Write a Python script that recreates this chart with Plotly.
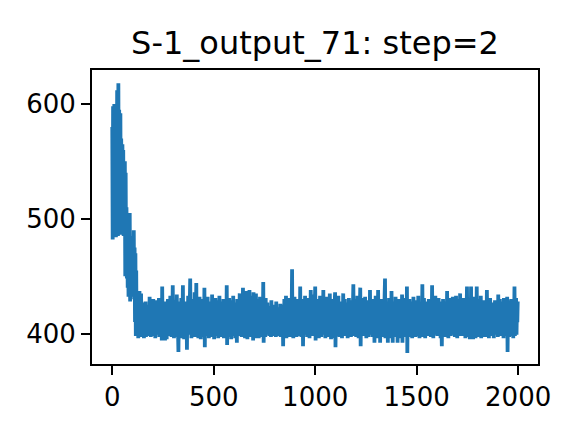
import plotly.graph_objects as go

title_text = "S-1_output_71: step=2"
step = 2

early_values = [
    580, 482, 598, 540, 488, 600, 495, 585, 560, 484,
    590, 505, 612, 530, 485, 618, 500, 595, 550, 490,
    592, 486, 570, 520, 490, 565, 505, 560, 485, 548,
    505, 550, 450, 540, 455, 510, 448, 505, 440, 500,
    432, 490, 445, 505, 428, 470, 440, 480, 432, 472,
    440, 485, 450, 490, 430, 475, 410, 470, 398, 455,
]

steady_values = [
    398, 424, 401, 429, 396, 419, 405, 437, 399, 426, 408, 435, 397, 421, 404, 427, 410, 418, 396, 423,
    412, 400, 428, 397, 417, 409, 425, 398, 420, 403, 415, 399, 432, 406, 419, 397, 426, 411, 421, 401,
    416, 430, 398, 422, 405, 427, 396, 418, 410, 429, 399, 424, 403, 416, 408, 431, 397, 420, 412, 426,
    400, 419, 394, 441, 403, 424, 395, 418, 407, 428, 394, 421, 410, 426, 395, 417, 404, 430, 398, 422,
    411, 427, 399, 433, 405, 420, 397, 425, 409, 442, 401, 423, 396, 418, 412, 429, 400, 421, 406, 434,
    397, 425, 402, 384, 419, 410, 428, 398, 423, 405, 431, 396, 417, 408, 442, 400, 424, 395, 420, 411,
    403, 428, 398, 419, 386, 426, 407, 433, 399, 421, 410, 427, 448, 402, 418, 396, 430, 405, 423, 399,
    415, 427, 401, 436, 397, 422, 409, 444, 398, 420, 405, 429, 396, 417, 411, 432, 400, 424, 395, 419,
    408, 430, 397, 426, 403, 421, 399, 440, 388, 427, 406, 418, 398, 424, 409, 432, 401, 419, 396, 425,
    412, 400, 428, 397, 420, 407, 434, 399, 423, 404, 417, 395, 426, 410, 431, 398, 421, 405, 429, 402,
    418, 396, 425, 409, 433, 400, 422, 397, 419, 411, 428, 398, 424, 405, 430, 396, 417, 408, 427, 401,
    421, 399, 442, 390, 426, 404, 419, 397, 431, 408, 423, 400, 416, 395, 429, 410, 420, 398, 433, 403,
    417, 400, 427, 396, 423, 409, 418, 392, 430, 405, 421, 398, 426, 411, 435, 399, 419, 404, 428, 397,
    422, 410, 440, 398, 425, 403, 431, 396, 418, 409, 437, 400, 424, 395, 429, 406, 420, 399, 438, 404,
    417, 397, 433, 408, 426, 399, 421, 394, 436, 405, 419, 398, 427, 410, 435, 396, 423, 403, 430, 400,
    418, 396, 425, 407, 432, 399, 420, 404, 428, 397, 423, 409, 445, 392, 426, 401, 419, 397, 431, 405,
    421, 399, 427, 402, 418, 406, 424, 398, 420, 403, 416, 397, 429, 400, 422, 408, 419, 398, 425, 404,
    415, 400, 421, 397, 428, 403, 418, 399, 423, 405, 416, 398, 420, 402, 426, 397, 419, 404, 422, 399,
    417, 389, 425, 401, 430, 398, 421, 407, 433, 396, 419, 404, 428, 399, 424, 410, 431, 397, 420, 405,
    427, 398, 418, 456, 402, 425, 396, 421, 409, 432, 399, 420, 404, 428, 397, 423, 411, 430, 400, 419,
    406, 426, 398, 441, 403, 422, 397, 419, 408, 430, 389, 424, 400, 418, 411, 433, 399, 421, 405, 427,
    397, 420, 409, 431, 400, 425, 396, 418, 407, 438, 399, 423, 404, 429, 398, 421, 410, 434, 401, 426,
    441, 394, 424, 403, 430, 398, 419, 408, 427, 396, 422, 405, 433, 400, 418, 397, 425, 409, 431, 402,
    438, 399, 421, 404, 428, 396, 420, 410, 432, 398, 424, 403, 418, 397, 427, 406, 435, 400, 419, 395,
    425, 407, 430, 399, 422, 403, 418, 396, 427, 436, 388, 421, 405, 429, 398, 420, 409, 433, 400, 424,
    397, 419, 406, 428, 401, 423, 396, 418, 410, 435, 399, 425, 404, 430, 398, 421, 407, 427, 402, 420,
    396, 424, 408, 431, 399, 419, 404, 427, 397, 422, 410, 429, 400, 425, 443, 398, 420, 405, 430, 401,
    418, 397, 426, 409, 433, 400, 421, 396, 428, 405, 423, 440, 389, 419, 406, 431, 399, 424, 403, 420,
    398, 427, 407, 432, 400, 422, 396, 418, 409, 429, 401, 425, 397, 421, 404, 438, 399, 420, 410, 426,
    402, 430, 397, 419, 406, 427, 392, 424, 408, 433, 400, 421, 396, 426, 405, 438, 398, 422, 409, 429,
    392, 424, 401, 430, 397, 418, 407, 427, 399, 421, 410, 433, 448, 396, 425, 404, 419, 398, 428, 392,
    421, 406, 431, 399, 424, 403, 419, 396, 437, 405, 422, 392, 428, 409, 420, 397, 426, 401, 432, 398,
    419, 405, 427, 392, 423, 408, 430, 396, 418, 402, 425, 399, 421, 410, 434, 392, 420, 404, 428, 397,
    424, 407, 431, 399, 420, 404, 441, 383, 426, 401, 419, 409, 430, 397, 423, 405, 428, 400, 421, 396,
    418, 408, 432, 399, 425, 403, 420, 397, 429, 410, 423, 398, 419, 405, 433, 400, 426, 396, 421, 407,
    427, 399, 422, 404, 443, 397, 420, 409, 431, 400, 424, 396, 418, 406, 428, 398, 425, 403, 419, 410,
    430, 398, 421, 405, 427, 397, 419, 408, 442, 400, 424, 396, 429, 403, 420, 409, 433, 399, 422, 404,
    417, 398, 426, 410, 431, 399, 420, 404, 428, 396, 423, 407, 389, 419, 402, 430, 398, 425, 405, 421,
    397, 428, 403, 419, 410, 437, 399, 424, 396, 420, 406, 431, 400, 423, 398, 427, 409, 418, 402, 432,
    399, 421, 405, 428, 397, 424, 410, 433, 400, 419, 396, 426, 404, 430, 398, 422, 408, 435, 401, 420,
    406, 429, 398, 423, 403, 431, 399, 419, 409, 427, 396, 425, 401, 420, 441, 398, 428, 404, 422, 397,
    430, 395, 424, 407, 441, 399, 421, 403, 428, 395, 419, 410, 432, 400, 425, 396, 420, 405, 441, 398,
    423, 409, 430, 397, 420, 404, 427, 399, 433, 396, 421, 408, 426, 400, 419, 403, 429, 397, 424, 410,
    401, 426, 397, 438, 405, 421, 399, 428, 396, 423, 408, 431, 400, 419, 404, 427, 398, 425, 410, 420,
    396, 424, 405, 429, 399, 421, 403, 418, 408, 427, 397, 434, 400, 422, 406, 430, 398, 420, 404, 426,
    399, 428, 407, 421, 396, 431, 401, 424, 405, 419, 398, 427, 410, 432, 384, 420, 403, 425, 397, 429,
    404, 422, 398, 430, 407, 419, 400, 426, 396, 423, 409, 441, 398, 424, 405, 431, 399, 420, 410, 428,
]

y_values = early_values + steady_values
x_values = list(range(0, step * len(y_values), step))

x_tick_vals = [0, 500, 1000, 1500, 2000]
y_tick_vals = [400, 500, 600]

fig = go.Figure()
fig.add_trace(go.Scatter(
    x=x_values, y=y_values, mode="lines",
    line=dict(color="#1f77b4", width=3.8, simplify=False),
    showlegend=False, hoverinfo="skip",
))

axis_common = dict(
    showgrid=False, zeroline=False,
    showline=True, linecolor="black", linewidth=2, mirror=True,
    ticks="outside", ticklen=9, tickwidth=2, tickcolor="black",
    tickfont=dict(family="DejaVu Sans", size=26, color="black"),
)

fig.update_xaxes(range=[-99.9, 2097.9], tickvals=x_tick_vals,
                 ticktext=[str(v) for v in x_tick_vals], **axis_common)
fig.update_yaxes(range=[373.5, 629.6], tickvals=y_tick_vals,
                 ticktext=[str(v) for v in y_tick_vals], **axis_common)

fig.update_layout(
    width=581, height=424,
    margin=dict(l=92, r=43, t=70, b=60),
    paper_bgcolor="white", plot_bgcolor="white",
    title=dict(text=title_text, x=(92 + 538) / 2 / 581, xanchor="center",
               y=1 - 43 / 424, yanchor="middle", yref="container",
               font=dict(family="DejaVu Sans", size=32, color="black")),
)

fig.write_html("out.html")
